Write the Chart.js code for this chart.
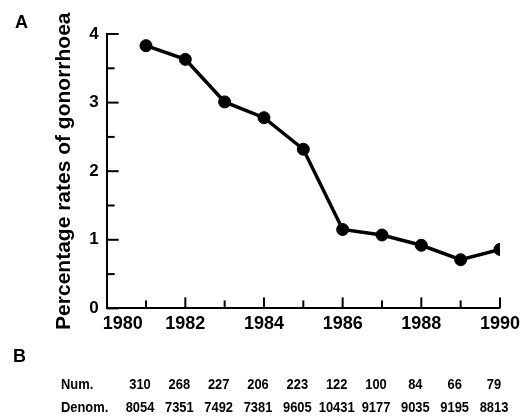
<!DOCTYPE html>
<html><head><meta charset="utf-8">
<script src="https://cdn.jsdelivr.net/npm/chart.js@4"></script>
<style>html,body{margin:0;padding:0;background:#fff;}#wrap{position:relative;width:525px;height:419px;}</style>
</head><body><div id="wrap"><canvas id="c" width="525" height="419"></canvas></div>
<script>
const years = [1981, 1982, 1983, 1984, 1985, 1986, 1987, 1988, 1989, 1990];
const rates = [3.83, 3.63, 3.01, 2.78, 2.32, 1.15, 1.07, 0.92, 0.71, 0.86];
const numerators = [310, 268, 227, 206, 223, 122, 100, 84, 66, 79];
const denominators = [8054, 7351, 7492, 7381, 9605, 10431, 9177, 9035, 9195, 8813];
const yTickLabels = ['0', '1', '2', '3', '4'];
const xTickLabels = ['1980', '1982', '1984', '1986', '1988', '1990'];
const yTitle = 'Percentage rates of gonorrhoea';

const FONT = '"Liberation Sans", Arial, Helvetica, sans-serif';

const decor = {
  id: 'decor',
  afterDraw(chart) {
    const {ctx, scales: {x, y}, chartArea: a} = chart;
    ctx.save();
    ctx.strokeStyle = '#000';
    ctx.lineWidth = 2;
    // inward y ticks
    y.ticks.forEach(t => {
      const py = y.getPixelForValue(t.value);
      const major = Number.isInteger(t.value);
      ctx.beginPath();
      ctx.moveTo(a.left, py);
      ctx.lineTo(a.left + (major ? 12 : 8), py);
      ctx.stroke();
    });
    // inward x ticks
    x.ticks.forEach(t => {
      if (t.value === x.min) return;
      const px = x.getPixelForValue(t.value);
      const major = t.value % 2 === 0;
      ctx.beginPath();
      ctx.moveTo(px, a.bottom);
      ctx.lineTo(px, a.bottom - (major ? 11 : 8));
      ctx.stroke();
    });
    ctx.fillStyle = '#000';
    // first x label, kept clear of the y axis
    ctx.font = 'bold 18px ' + FONT;
    ctx.textAlign = 'left';
    ctx.textBaseline = 'middle';
    ctx.fillText(xTickLabels[0], a.left - 4, a.bottom + 16);
    // panel letters
    ctx.fillText('A', 15, 23);
    ctx.fillText('B', 13, 357);
    // table (condensed bold type)
    const sx = 0.86;
    ctx.font = 'bold 15px ' + FONT;
    const put = (txt, cx, cy, align) => {
      ctx.save();
      ctx.translate(cx, cy);
      ctx.scale(sx, 1);
      ctx.textAlign = align;
      ctx.fillText(txt, 0, 0);
      ctx.restore();
    };
    put('Num.', 61, 385, 'left');
    put('Denom.', 61, 408, 'left');
    years.forEach((yr, i) => {
      const px = x.getPixelForValue(yr) - 6;
      put(String(numerators[i]), px, 385, 'center');
      put(String(denominators[i]), px, 408, 'center');
    });
    ctx.restore();
  }
};

new Chart(document.getElementById('c'), {
  type: 'line',
  data: {
    datasets: [{
      data: years.map((yr, i) => ({x: yr, y: rates[i]})),
      borderColor: '#000',
      backgroundColor: '#000',
      borderWidth: 3.5,
      pointRadius: 6,
      pointBorderWidth: 1,
      pointBackgroundColor: '#000',
      pointBorderColor: '#000',
      tension: 0,
      fill: false
    }]
  },
  options: {
    responsive: false,
    animation: false,
    devicePixelRatio: 1,
    layout: {autoPadding: false, padding: {left: 52, right: 23, top: 34, bottom: 79}},
    plugins: {legend: {display: false}, tooltip: {enabled: false}},
    scales: {
      x: {
        type: 'linear',
        min: 1980, max: 1990,
        grid: {display: false, drawTicks: false},
        border: {display: true, color: '#000', width: 2},
        ticks: {
          stepSize: 1,
          autoSkip: false,
          maxRotation: 0,
          padding: 5,
          color: '#000',
          font: {family: FONT, size: 18, weight: 'bold'},
          callback: v => (v !== 1980 && xTickLabels.includes(String(v))) ? String(v) : ''
        }
      },
      y: {
        min: 0, max: 4,
        grid: {display: false, drawTicks: false},
        border: {display: true, color: '#000', width: 2},
        ticks: {
          stepSize: 0.5,
          padding: 8,
          color: '#000',
          font: {family: FONT, size: 17, weight: 'bold'},
          callback: v => yTickLabels.includes(String(v)) ? String(v) : ''
        },
        title: {
          display: true,
          text: yTitle,
          color: '#000',
          padding: {top: 0, bottom: 4},
          font: {family: FONT, size: 21, weight: 'bold'}
        }
      }
    }
  },
  plugins: [decor]
});
</script></body></html>
